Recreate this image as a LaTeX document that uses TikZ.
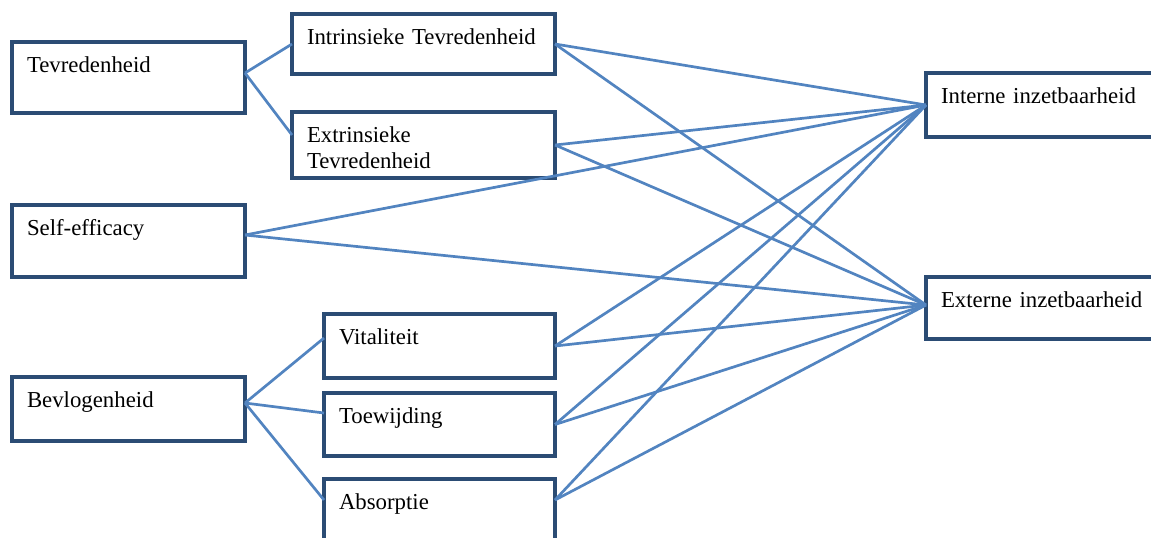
\documentclass[tikz,border=0pt]{standalone}
\usepackage{fontspec}
\setmainfont{Liberation Serif}
\usepackage{xcolor}

\definecolor{boxblue}{HTML}{2B4C74}
\definecolor{linkblue}{HTML}{5284C0}

\begin{document}
\begin{tikzpicture}[x=0.5pt,y=-0.5pt,
        factor/.style={draw=boxblue, line width=1.6pt, anchor=north west, outer sep=0pt,
            inner xsep=7.5pt, inner ysep=0pt, text height=15pt, align=left,
            font=\fontsize{11.4}{13}\selectfont},
        link/.style={draw=linkblue, line width=1.35pt}]
        \useasboundingbox (0,0) rectangle (1151,537);
        % left column
        \node[factor, text width=101.5pt, text depth=20.5pt] (tev) at (12,42) {Tevredenheid};
        \node[factor, text width=101.5pt, text depth=21pt] (self) at (12,205) {Self-efficacy};
        \node[factor, text width=101.5pt, text depth=17pt] (bevl) at (12,377) {Bevlogenheid};
        % middle column
        \node[factor, text width=116.5pt, text depth=15pt] (intr) at (292,14) {Intrinsieke Tevredenheid};
        \node[factor, text width=116.5pt, text depth=18pt] (extr) at (292,112) {Extrinsieke\\Tevredenheid};
        \node[factor, text width=100.5pt, text depth=17pt] (vit) at (324,314) {Vitaliteit};
        \node[factor, text width=100.5pt, text depth=16.5pt] (toew) at (324,393) {Toewijding};
        \node[factor, text width=100.5pt, text depth=30pt] (abso) at (324,479) {Absorptie};
        % right column
        \node[factor, text width=105pt, text depth=17pt] (intern) at (926,73) {Interne inzetbaarheid};
        \node[factor, text width=105pt, text depth=16pt] (extern) at (926,277) {Externe inzetbaarheid};

        % branches
        \draw[link] ([yshift=2.25pt]tev.east) -- (intr.west);
        \draw[link] ([yshift=2.25pt]tev.east) -- ([yshift=5pt]extr.west);
        \draw[link] ([yshift=3pt]bevl.east) -- ([yshift=4pt]vit.west);
        \draw[link] ([yshift=3pt]bevl.east) -- ([yshift=5.75pt]toew.west);
        \draw[link] ([yshift=3pt]bevl.east) -- ([yshift=12pt]abso.west);

        % links to the outcomes
        \foreach \src/\sh in {intr/0pt, extr/0pt, self/3pt, vit/0pt, toew/0pt, abso/12pt} {
            \draw[link] ([yshift=\sh]\src.east) -- (intern.west);
            \draw[link] ([yshift=\sh]\src.east) -- ([yshift=1.5pt]extern.west);
        }
    \end{tikzpicture}
\end{document}
